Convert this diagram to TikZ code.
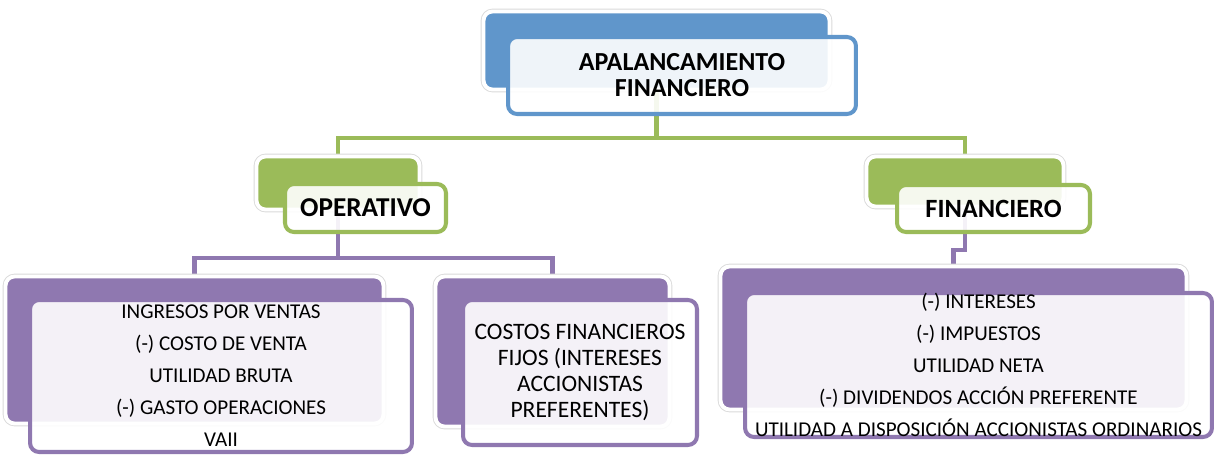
\documentclass[tikz,border=0pt]{standalone}
\usepackage{fontspec}
\setmainfont{Carlito}
\usetikzlibrary{positioning}
\pgfdeclarelayer{back}
\pgfsetlayers{back,main}
\definecolor{blueacc}{RGB}{96,150,203}
\definecolor{greenacc}{RGB}{155,187,89}
\definecolor{purpleacc}{RGB}{143,120,176}

\begin{document}
\begin{tikzpicture}[x=0.02cm, y=-0.02cm]
	\tikzset{
		backbox/.style={fill=#1, rounded corners=0.18cm, inner sep=0pt, preaction={draw=black!15, line width=3.2pt}, draw=white, line width=2.2pt},
		frontbox/.style={draw=#1, line width=2.3pt, fill=white, fill opacity=0.9, rounded corners=0.18cm, inner sep=0pt},
		link/.style={draw=#1, line width=2.3pt},
		headtext/.style={align=center, font=\bfseries\fontsize{14.8}{14.8}\selectfont},
		listtext/.style={align=center, font=\fontsize{12}{18.2}\selectfont},
	}
	\useasboundingbox (0,0) rectangle (1220,456);

	% boxes behind
	\node[backbox=blueacc, minimum width=6.92cm, minimum height=1.56cm] (topb) at (656.5,50.5) {};
	\node[backbox=greenacc, minimum width=3.26cm, minimum height=1.06cm] (operb) at (338,183) {};
	\node[backbox=greenacc, minimum width=3.94cm, minimum height=1.0cm] (finb) at (965,181.5) {};
	\node[backbox=purpleacc, minimum width=7.56cm, minimum height=2.94cm] (leftb) at (194.5,350) {};
	\node[backbox=purpleacc, minimum width=4.68cm, minimum height=3.0cm] (centb) at (552.5,351.5) {};
	\node[backbox=purpleacc, minimum width=9.32cm, minimum height=2.86cm] (rightb) at (953.5,338) {};

	% boxes in front
	\node[frontbox=blueacc, minimum width=6.96cm, minimum height=1.54cm] (top) at (682,75.5) {};
	\node[frontbox=greenacc, minimum width=3.22cm, minimum height=0.96cm] (oper) at (365.5,208) {};
	\node[frontbox=greenacc, minimum width=3.86cm, minimum height=0.94cm] (fin) at (993.5,208.5) {};
	\node[frontbox=purpleacc, minimum width=7.64cm, minimum height=3.04cm] (left) at (221,376) {};
	\node[frontbox=purpleacc, minimum width=4.68cm, minimum height=2.9cm] (cent) at (580,372.5) {};
	\node[frontbox=purpleacc, minimum width=9.34cm, minimum height=2.88cm] (right) at (978.5,365) {};

	% texts
	\node[headtext] (toptext) at (top) {APALANCAMIENTO\\FINANCIERO};
	\node[headtext, font=\bfseries\fontsize{15.5}{15.5}\selectfont] (opertext) at (oper) {OPERATIVO};
	\node[headtext, font=\bfseries\fontsize{15}{15}\selectfont] (fintext) at (fin) {FINANCIERO};
	\node[listtext] (lefttext) at (left) {INGRESOS POR VENTAS\\(-) COSTO DE VENTA\\UTILIDAD BRUTA\\(-) GASTO OPERACIONES\\VAII};
	\node[listtext, font=\fontsize{13.4}{14.8}\selectfont] (centtext) at (cent) {COSTOS FINANCIEROS\\FIJOS (INTERESES\\ACCIONISTAS\\PREFERENTES)};
	\node[listtext] (righttext) at (right) {(-) INTERESES\\(-) IMPUESTOS\\UTILIDAD NETA\\(-) DIVIDENDOS ACCIÓN PREFERENTE\\UTILIDAD A DISPOSICIÓN ACCIONISTAS ORDINARIOS};

	% connectors
	\begin{pgfonlayer}{back}
		\draw[link=greenacc] (topb.south) -- ++(0,47) -| (operb.north);
		\draw[link=greenacc] (topb.south) -- ++(0,47) -| (finb.north);
		\draw[link=purpleacc] (operb.south) -- ++(0,47) -| (leftb.north);
		\draw[link=purpleacc] (operb.south) -- ++(0,47) -| (centb.north);
		\draw[link=purpleacc] (finb.south) -- ++(0,42) -| (rightb.north);
	\end{pgfonlayer}
\end{tikzpicture}
\end{document}
